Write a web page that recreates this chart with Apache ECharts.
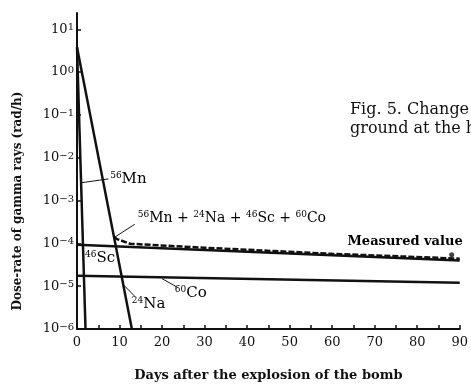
<!DOCTYPE html>
<html>
<head>
<meta charset="utf-8">
<script src="https://cdn.jsdelivr.net/npm/echarts@6/dist/echarts.min.js"></script>
<style>
  html, body { margin: 0; padding: 0; background: #fff; }
  #chart { width: 471px; height: 387px; }
</style>
</head>
<body>
<div id="chart"></div>
<script>
// days after the bomb -> dose-rate (rad/h)
const mn56 = [[0, 3.8], [2.0, 1e-6]];
const na24 = [[0, 3.8], [8.7, 1.4e-4], [12.9, 1e-6]];
const sc46 = [[0, 9.3e-5], [90, 4.0e-5]];
const co60 = [[0, 1.75e-5], [90, 1.2e-5]];
const total = [[8.7, 1.4e-4], [9.4, 1.26e-4], [12.5, 9.8e-5], [30, 7.9e-5], [60, 5.7e-5], [90, 4.4e-5]];
const measured = [[88.1, 5.4e-5]];

// annotation anchors in data coordinates
const labels = [
  { text: '{s|56}{n|Mn}', at: [7.8, 3.2e-3], align: 'left' },
  { text: '{s|56}{t|Mn + }{s|24}{t|Na + }{s|46}{t|Sc + }{s|60}{t|Co}', at: [14.3, 3.9e-4], align: 'left' },
  { text: '{s|46}{n|Sc}', at: [1.9, 4.6e-5], align: 'left' },
  { text: '{s|24}{n|Na}', at: [12.9, 3.8e-6], align: 'left' },
  { text: '{s|60}{n|Co}', at: [23, 6.8e-6], align: 'left' },
  { text: '{m|Measured value}', at: [90.7, 1.1e-4], align: 'right' }
];
const leaders = [
  [[7.4, 3.2e-3], [0.95, 2.6e-3]],
  [[13.6, 2.8e-4], [8.9, 1.4e-4]],
  [[10.8, 1.1e-5], [13.6, 5.8e-6]],
  [[20, 1.5e-5], [23.7, 9.3e-6]]
];
const caption = ['Fig. 5. Change', 'ground at the h'];

const serif = 'DejaVu Serif';
const ink = '#111';

const chart = echarts.init(document.getElementById('chart'));

const line = (name, data, width, extra) => Object.assign({
  name, type: 'line', data, symbol: 'none', silent: true,
  lineStyle: { color: ink, width: width }
}, extra || {});

chart.setOption({
  animation: false,
  grid: { left: 77, right: 11, top: 13, bottom: 55 },
  xAxis: {
    type: 'value', min: 0, max: 90, interval: 10,
    axisLine: { lineStyle: { color: ink, width: 2 } },
    axisTick: { inside: true, length: 4, lineStyle: { color: ink, width: 1.5 } },
    minorTick: { show: true, splitNumber: 2, length: 4, lineStyle: { color: ink, width: 1.5 } },
    splitLine: { show: false },
    axisLabel: { color: ink, fontFamily: serif, fontSize: 13, margin: 7 },
    name: 'Days after the explosion of the bomb',
    nameLocation: 'middle', nameGap: 40,
    nameTextStyle: { color: ink, fontFamily: serif, fontSize: 13, fontWeight: 'bold' }
  },
  yAxis: {
    type: 'log', logBase: 10, min: 1e-6, max: 24, splitNumber: 8,
    axisLine: { lineStyle: { color: ink, width: 2 } },
    axisTick: { inside: true, length: 4, lineStyle: { color: ink, width: 1.5 } },
    splitLine: { show: false },
    axisLabel: {
      margin: 3, showMaxLabel: false,
      formatter: v => {
        const e = Math.round(Math.log10(v));
        return '{b|10}{s|' + (e < 0 ? '\u2212' + (-e) : e) + '}';
      },
      rich: {
        b: { color: ink, fontFamily: serif, fontSize: 13 },
        s: { color: ink, fontFamily: serif, fontSize: 10, verticalAlign: 'top' }
      }
    },
    name: 'Dose-rate of gamma rays (rad/h)',
    nameLocation: 'middle', nameGap: 53, nameRotate: 90,
    nameTextStyle: { color: ink, fontFamily: serif, fontSize: 12, fontWeight: 'bold', padding: [0, 60, 0, 0] }
  },
  series: [
    line('56Mn', mn56, 2.5),
    line('24Na', na24, 2.5),
    line('46Sc', sc46, 2.5),
    line('60Co', co60, 2.5),
    line('total', total, 2.5, { lineStyle: { color: ink, width: 2.5, type: [6, 2] } }),
    { name: 'Measured value', type: 'scatter', data: measured, symbolSize: 5, itemStyle: { color: ink } }
  ]
});

const px = p => chart.convertToPixel({ gridIndex: 0 }, p);
const textRich = {
  n: { fontFamily: serif, fontSize: 15, color: ink, lineHeight: 16 },
  t: { fontFamily: serif, fontSize: 14, color: ink, lineHeight: 16 },
  s: { fontFamily: serif, fontSize: 9, color: ink, verticalAlign: 'top' },
  m: { fontFamily: serif, fontSize: 13, color: ink, fontWeight: 'bold' }
};
const graphics = [];
labels.forEach(l => {
  const [x, y] = px(l.at);
  graphics.push({
    type: 'text', x, y,
    style: { text: l.text, rich: textRich, align: l.align, verticalAlign: 'middle' }
  });
});
leaders.forEach(([a, b]) => {
  const p1 = px(a), p2 = px(b);
  graphics.push({
    type: 'line',
    shape: { x1: p1[0], y1: p1[1], x2: p2[0], y2: p2[1] },
    style: { stroke: ink, lineWidth: 1 }
  });
});
caption.forEach((c, i) => {
  graphics.push({
    type: 'text', x: 350, y: 110 + i * 19,
    style: { text: c, fontFamily: serif, fontSize: 16, fill: ink, verticalAlign: 'middle' }
  });
});
chart.setOption({ graphic: graphics });
</script>
</body>
</html>
